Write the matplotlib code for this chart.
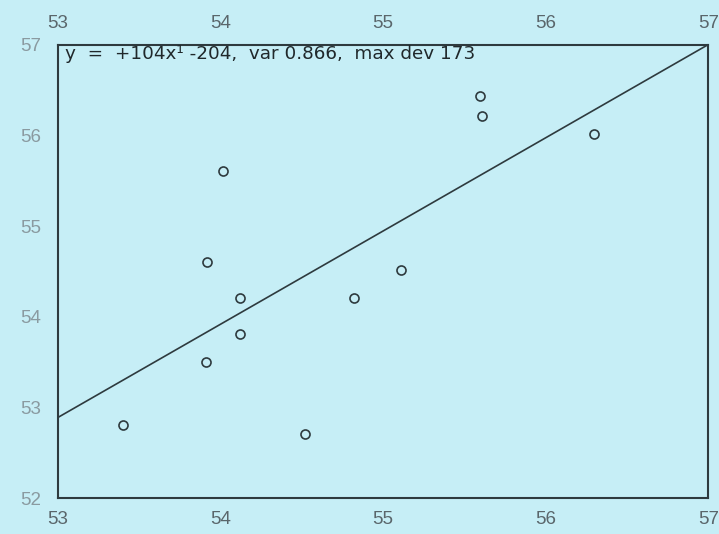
import matplotlib
matplotlib.use("Agg")
import matplotlib.pyplot as plt

# data
x_vals = [55.60, 55.61, 56.30, 54.02, 53.92, 55.11, 54.12, 54.82, 54.12, 53.91, 53.40, 54.52]
y_vals = [56.43, 56.21, 56.01, 55.61, 54.61, 54.52, 54.21, 54.21, 53.81, 53.50, 52.81, 52.71]
fit_x = [53, 57]
fit_y = [52.89, 57.0]
x_ticks = [53, 54, 55, 56, 57]
y_ticks = [52, 53, 54, 55, 56, 57]
equation = "y  =  +104x\u00b9 -204,  var 0.866,  max dev 173"

bg = "#c6eef6"
ink = "#2e3a3e"
plt.rcParams['font.family'] = ['Liberation Sans', 'DejaVu Sans']

fig = plt.figure(figsize=(7.19, 5.34), dpi=100, facecolor=bg)
ax = fig.add_axes([0.080, 0.0665, 0.905, 0.850], facecolor=bg)

ax.plot(fit_x, fit_y, color=ink, lw=1.2)
ax.plot(x_vals, y_vals, linestyle='none', marker='o', markersize=6.5,
        markerfacecolor='none', markeredgecolor=ink, markeredgewidth=1.2)

ax.set_xlim(53, 57)
ax.set_ylim(52, 57)
ax.set_xticks(x_ticks)
ax.set_yticks(y_ticks)
ax.tick_params(axis='x', top=True, labeltop=True, bottom=True, labelbottom=True,
               direction='in', length=0, pad=9, labelsize=13.5, colors='#5a666b')
ax.tick_params(axis='y', left=True, labelleft=True, direction='in', length=0,
               pad=12, labelsize=13.5, colors='#8a9aa0')
for s in ax.spines.values():
    s.set_color(ink)
    s.set_linewidth(1.5)

ax.text(0.012, 0.998, equation, transform=ax.transAxes, ha='left', va='top',
        fontsize=13.2, color='#20282b', family=['DejaVu Sans'])

fig.savefig("out.png", dpi=100, facecolor=bg)
